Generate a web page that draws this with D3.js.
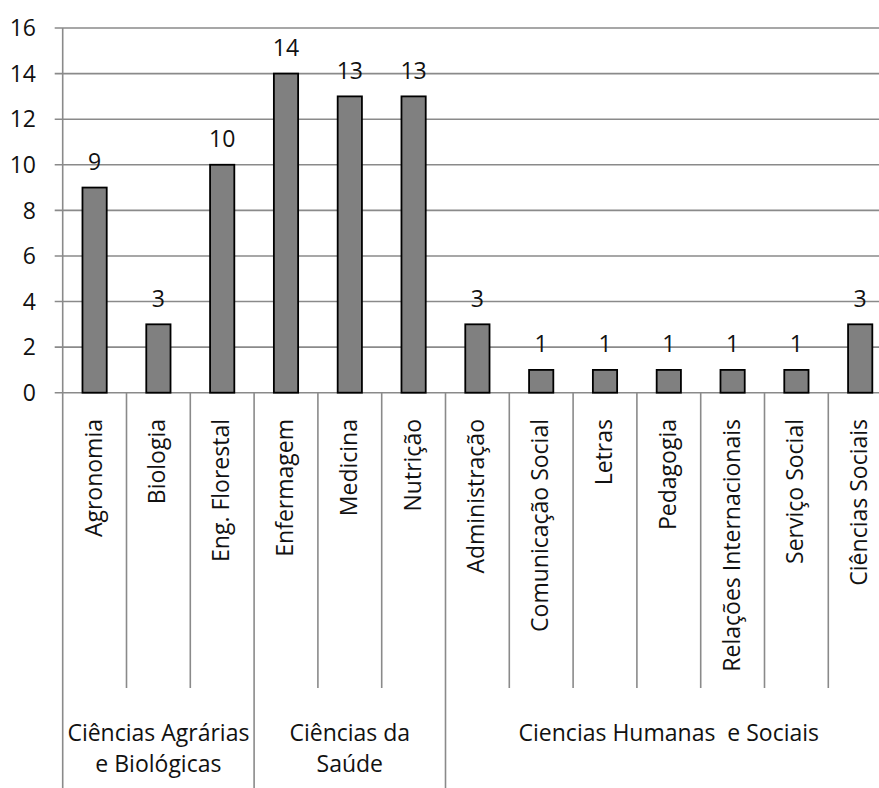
<!DOCTYPE html>
<html>
<head>
<meta charset="utf-8">
<script src="https://cdn.jsdelivr.net/npm/d3@7"></script>
<style>
  html, body { margin: 0; padding: 0; background: #fff; }
  svg { display: block; font-family: "Open Sans", sans-serif; }
</style>
</head>
<body>
<div id="chart"></div>
<script>
// Courses and their counts
const categories = ["Agronomia", "Biologia", "Eng. Florestal", "Enfermagem", "Medicina", "Nutrição",
  "Administração", "Comunicação Social", "Letras", "Pedagogia", "Relações Internacionais",
  "Serviço Social", "Ciências Sociais"];
const values = [9, 3, 10, 14, 13, 13, 3, 1, 1, 1, 1, 1, 3];
// Area each course belongs to (one entry per area, lines of its label)
const groupLabels = [["Ciências Agrárias", "e Biológicas"], ["Ciências da", "Saúde"], ["Ciencias Humanas  e Sociais"]];
const groupSizes = [3, 3, 7];
const yTicks = [0, 2, 4, 6, 8, 10, 12, 14, 16];

const W = 879, H = 788;
const left = 62.7, bandW = 63.8;
const x = d3.scaleBand().domain(categories).range([left, left + bandW * categories.length]).padding(0);
const y = d3.scaleLinear().domain([0, 16]).range([392.7, 28]);

const svg = d3.select("#chart").append("svg").attr("width", W).attr("height", H);
const gridColor = "#8a8a8a";
const fs = 23;

// horizontal gridlines
svg.append("g").selectAll("line").data(yTicks).join("line")
  .attr("x1", left - 8).attr("x2", W)
  .attr("y1", d => y(d)).attr("y2", d => y(d))
  .attr("stroke", gridColor).attr("stroke-width", 1.6);

// value axis line
svg.append("line").attr("x1", left).attr("x2", left).attr("y1", y(16)).attr("y2", H)
  .attr("stroke", gridColor).attr("stroke-width", 1.6);

// value axis labels
svg.append("g").selectAll("text").data(yTicks).join("text")
  .attr("x", 36).attr("y", d => y(d)).attr("dy", "0.36em")
  .attr("text-anchor", "end").attr("font-size", fs).attr("fill", "#111")
  .text(d => d);

// separators between categories
const groupStarts = [];
let acc = 0;
groupSizes.forEach(n => { groupStarts.push(acc); acc += n; });
svg.append("g").selectAll("line").data(d3.range(1, categories.length)).join("line")
  .attr("x1", i => x(categories[i])).attr("x2", i => x(categories[i]))
  .attr("y1", y(0)).attr("y2", i => groupStarts.includes(i) ? H : 688)
  .attr("stroke", gridColor).attr("stroke-width", 1.6);

// bars
const barW = x.bandwidth() * 0.38;
svg.append("g").selectAll("rect").data(values).join("rect")
  .attr("x", (d, i) => x(categories[i]) + (x.bandwidth() - barW) / 2)
  .attr("y", d => y(d))
  .attr("width", barW)
  .attr("height", d => y(0) - y(d))
  .attr("fill", "#808080").attr("stroke", "#000").attr("stroke-width", 1.8);

// value labels
svg.append("g").selectAll("text").data(values).join("text")
  .attr("x", (d, i) => x(categories[i]) + x.bandwidth() / 2)
  .attr("y", d => y(d) - 17.5)
  .attr("text-anchor", "middle").attr("font-size", fs).attr("fill", "#111")
  .text(d => d);

// category labels (rotated)
svg.append("g").selectAll("text").data(categories).join("text")
  .attr("transform", d => `translate(${x(d) + x.bandwidth() / 2},419) rotate(-90)`)
  .attr("dy", "0.3em")
  .attr("text-anchor", "end").attr("font-size", fs).attr("fill", "#111")
  .text(d => d);

// area labels
const gLab = svg.append("g");
groupLabels.forEach((lines, gi) => {
  const first = categories[groupStarts[gi]];
  const last = categories[groupStarts[gi] + groupSizes[gi] - 1];
  const cx = (x(first) + x(last) + x.bandwidth()) / 2;
  const t = gLab.append("text").attr("text-anchor", "middle").attr("font-size", fs).attr("fill", "#111");
  lines.forEach((s, li) => {
    t.append("tspan").attr("x", cx).attr("y", 741 + li * 31).attr("xml:space", "preserve").text(s);
  });
});
</script>
</body>
</html>
